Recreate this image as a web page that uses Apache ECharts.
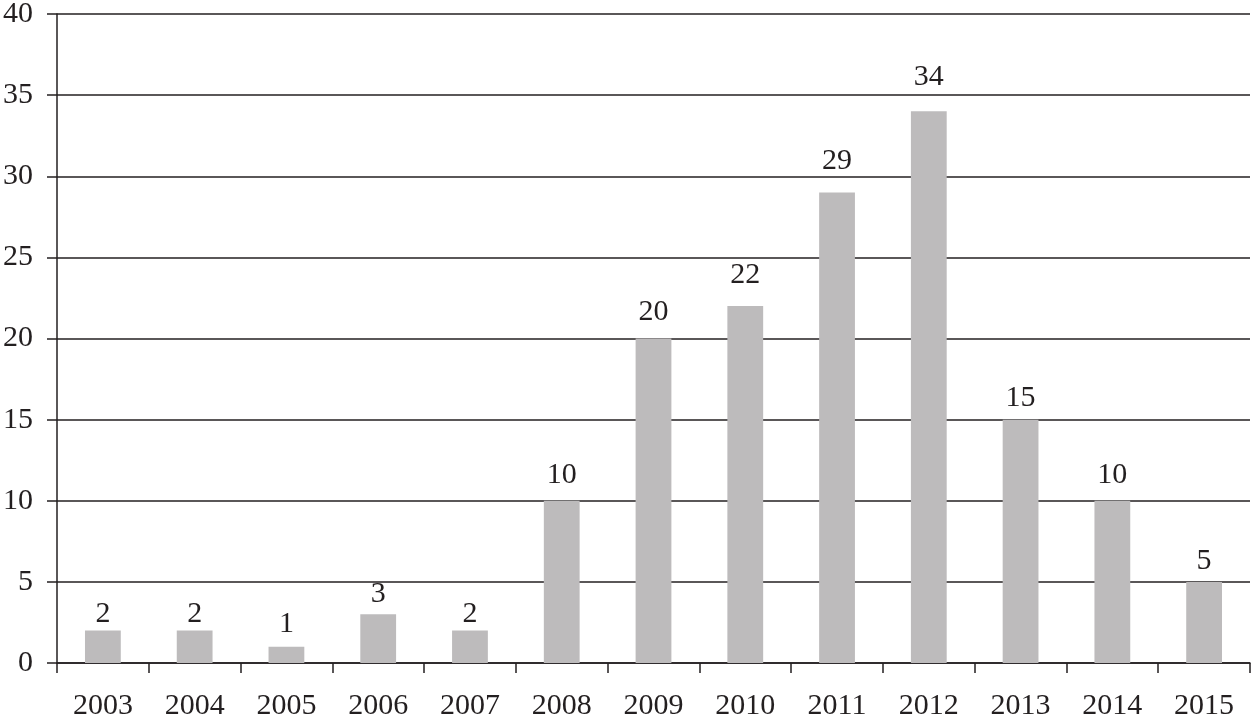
<!DOCTYPE html>
<html><head><meta charset="utf-8">
<script src="https://cdn.jsdelivr.net/npm/echarts@6/dist/echarts.min.js"></script>
<style>html,body{margin:0;padding:0;background:#fff}#c{width:1252px;height:716px}</style>
</head><body><div id="c"></div>
<script>
const categories = ['2003','2004','2005','2006','2007','2008','2009','2010','2011','2012','2013','2014','2015'];
const counts = [2,2,1,3,2,10,20,22,29,34,15,10,5];
const yTicks = {min:0, max:40, interval:5};

// label spacing above each bar (style only, as placed in the source)
const labelGap = [1,1,8,5,1,11,11,16,16,19,7,11,6];

const ink = '#231f20';
const font = '"Liberation Serif","Times New Roman",serif';
const chart = echarts.init(document.getElementById('c'), null, {renderer:'canvas'});
chart.setOption({
  animation:false,
  backgroundColor:'#fff',
  grid:{left:57, right:2, top:14, bottom:53, containLabel:false, outerBoundsMode:'none'},
  xAxis:{
    type:'category', data:categories,
    axisLine:{lineStyle:{color:ink, width:1.5}},
    axisTick:{show:true, length:10, inside:false, alignWithLabel:false, lineStyle:{color:ink, width:1.5}},
    axisLabel:{color:ink, fontFamily:font, fontSize:30, margin:28}
  },
  yAxis:{
    type:'value', min:yTicks.min, max:yTicks.max, interval:yTicks.interval,
    axisLine:{show:true, lineStyle:{color:ink, width:1.5}},
    axisTick:{show:true, length:10, lineStyle:{color:ink, width:1.5}},
    splitLine:{show:true, lineStyle:{color:ink, width:1.5}},
    axisLabel:{color:ink, fontFamily:font, fontSize:30, margin:24}
  },
  series:[{
    type:'bar',
    data:counts.map((v,i)=>({value:v, label:{distance:labelGap[i]}})),
    barWidth:'39%',
    itemStyle:{color:'#bdbbbc'},
    label:{show:true, position:'top', color:ink, fontFamily:font, fontSize:30}
  }]
});
</script></body></html>
